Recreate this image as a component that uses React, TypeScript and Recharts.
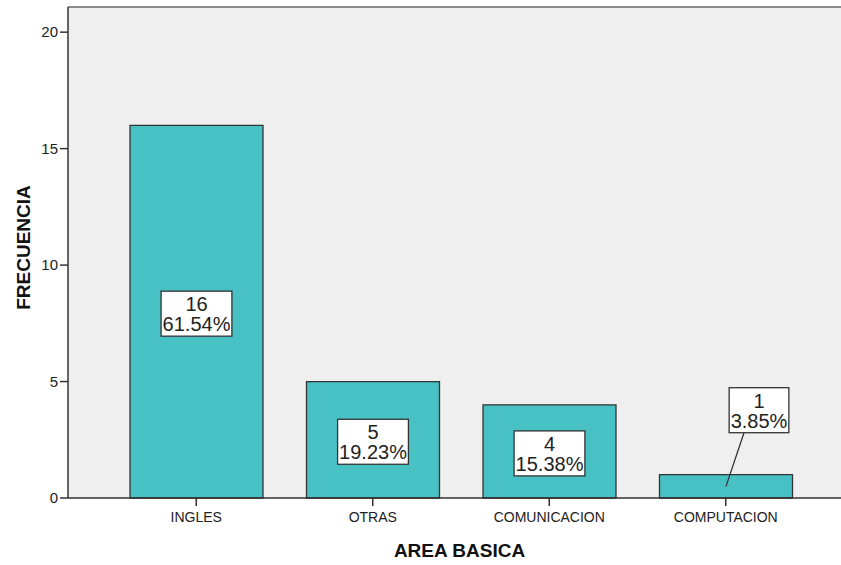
import { BarChart, Bar, XAxis, YAxis, CartesianGrid, LabelList, ReferenceLine } from 'recharts';

const CATEGORIES = ['INGLES', 'OTRAS', 'COMUNICACION', 'COMPUTACION'];
const COUNTS = [16, 5, 4, 1];
const Y_TICKS = [0, 5, 10, 15, 20];
const Y_MAX = 21.08;

const TOTAL = COUNTS.reduce((a, b) => a + b, 0);
const data = CATEGORIES.map((name, i) => ({
  name,
  count: COUNTS[i],
  pct: ((COUNTS[i] / TOTAL) * 100).toFixed(2) + '%',
}));

const FONT = '"Liberation Sans", Arial, sans-serif';
const BAR_FILL = '#48c1c4';
const DARK = '#333333';
const LABEL_SIZE = 20;
const BOX_H = 45;

// rough Arial advance widths, enough to size the label boxes
const textWidth = (s: string) =>
  s.split('').reduce((w, c) => w + (c === '.' ? 0.278 : c === '%' ? 0.889 : 0.556), 0) * LABEL_SIZE;

const renderBarLabel = (props: any) => {
  const { x, y, width, height, index } = props;
  const d = data[index];
  if (!d) return null;
  const line1 = String(d.count);
  const line2 = d.pct;
  const boxW = Math.max(textWidth(line1), textWidth(line2)) + 3;
  const cx = x + width / 2;
  const inside = height > BOX_H + 10;

  let boxCx = cx;
  let boxTop = y + height / 2 - BOX_H / 2 + 2;
  let leader = null;
  if (!inside) {
    boxCx = cx + 33;
    boxTop = y - 42 - BOX_H;
    leader = (
      <line x1={cx} y1={y + height / 2} x2={boxCx - 15} y2={boxTop + BOX_H} stroke={DARK} strokeWidth={1.3} />
    );
  }

  return (
    <g>
      {leader}
      <rect x={boxCx - boxW / 2} y={boxTop} width={boxW} height={BOX_H} fill="#ffffff" stroke={DARK} strokeWidth={1.3} />
      <text x={boxCx} y={boxTop + 20} textAnchor="middle" fontSize={LABEL_SIZE} fontFamily={FONT} fill="#222">
        {line1}
      </text>
      <text x={boxCx} y={boxTop + 40} textAnchor="middle" fontSize={LABEL_SIZE} fontFamily={FONT} fill="#222">
        {line2}
      </text>
    </g>
  );
};

export default function App() {
  return (
    <div style={{ position: 'absolute', left: 0, top: 0, background: '#fff' }}>
      <BarChart
        width={841}
        height={565}
        data={data}
        margin={{ top: 7, right: 0, bottom: 0, left: 0 }}
        barSize={133}
      >
        <CartesianGrid horizontal={false} vertical={false} fill="#efefef" />
        <ReferenceLine y={Y_MAX} stroke="#8a8a8a" strokeWidth={2} ifOverflow="extendDomain" />
        <XAxis
          dataKey="name"
          height={67}
          padding={{ left: 40, right: 27 }}
          interval={0}
          tickSize={8}
          tickMargin={6}
          axisLine={{ stroke: DARK, strokeWidth: 1.5 }}
          tickLine={{ stroke: DARK, strokeWidth: 1.5 }}
          tick={{ fontSize: 14, fontFamily: FONT, fill: '#222' }}
          label={(p: any) => {
            const vb = p.viewBox;
            return (
              <text
                x={vb.x + vb.width / 2 + 5}
                y={vb.y + 59}
                textAnchor="middle"
                fontSize={19}
                fontWeight="bold"
                fontFamily={FONT}
                fill="#111"
              >
                AREA BASICA
              </text>
            );
          }}
        />
        <YAxis
          width={68}
          domain={[0, Y_MAX]}
          ticks={Y_TICKS}
          interval={0}
          tickSize={8}
          tickMargin={2}
          axisLine={{ stroke: DARK, strokeWidth: 1.5 }}
          tickLine={{ stroke: DARK, strokeWidth: 1.5 }}
          tick={{ fontSize: 15, fontFamily: FONT, fill: '#222' }}
          label={(p: any) => {
            const vb = p.viewBox;
            const lx = 23;
            const ly = vb.y + vb.height / 2 - 5;
            return (
              <text
                x={lx}
                y={ly}
                transform={`rotate(-90, ${lx}, ${ly})`}
                textAnchor="middle"
                dominantBaseline="central"
                fontSize={19}
                fontWeight="bold"
                fontFamily={FONT}
                fill="#111"
              >
                FRECUENCIA
              </text>
            );
          }}
        />
        <Bar dataKey="count" fill={BAR_FILL} stroke={DARK} strokeWidth={1.3} isAnimationActive={false}>
          <LabelList dataKey="count" content={renderBarLabel} />
        </Bar>
      </BarChart>
    </div>
  );
}
